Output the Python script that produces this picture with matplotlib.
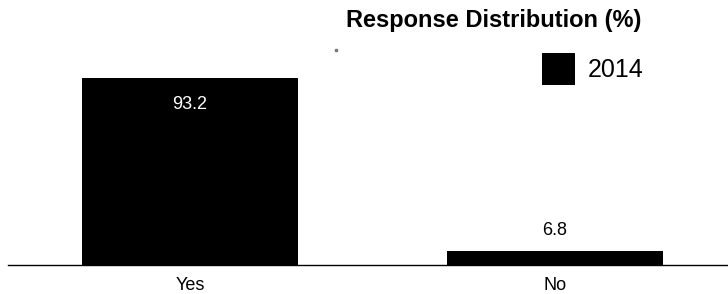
import matplotlib
matplotlib.use("Agg")

import matplotlib.pyplot as plt
from matplotlib.patches import Rectangle

categories = ["Yes", "No"]
values_2014 = [93.2, 6.8]
series_name = "2014"
title = "Response Distribution (%)"

plt.rcParams["font.family"] = ["Liberation Sans", "DejaVu Sans"]

W, H = 728, 294
fig = plt.figure(figsize=(W / 100, H / 100), dpi=100)

# axes: left at x=8px, bottom (baseline) at y=265px, top at y=0
ax = fig.add_axes([8 / W, (H - 265) / H, 1 - 8 / W, 265 / H])
x = list(range(len(categories)))
bars = ax.bar(x, values_2014, width=0.592, color="black", label=series_name)
ax.set_xlim(-0.4986, 1.474)
ax.set_ylim(0, 265 / 2.007)

for xi, v in zip(x, values_2014):
    if v > 50:
        ax.text(xi, v - 13.2, f"{v}", ha="center", va="center",
                color="white", fontsize=13)
    else:
        ax.text(xi, v + 10.6, f"{v}", ha="center", va="center",
                color="black", fontsize=13)

ax.set_xticks(x)
ax.set_xticklabels(categories, fontsize=13)
ax.tick_params(axis="x", length=0, pad=9)
ax.set_yticks([])
for s in ["top", "left", "right"]:
    ax.spines[s].set_visible(False)
ax.spines["bottom"].set_linewidth(1.0)

fig.text(494 / W, 1 - 20 / H, title, ha="center", va="center",
         fontsize=17, fontweight="bold")

fig.legend(handles=[bars], labels=[series_name], loc="upper left",
           bbox_to_anchor=(542 / W, 1 - 53 / H), frameon=False,
           fontsize=18, handlelength=1.32, handleheight=1.6,
           handletextpad=0.5, borderpad=0, borderaxespad=0)

# small grey dot artifact
fig.patches.append(Rectangle((335 / W, 1 - 51 / H), 2 / W, 2 / H,
                             transform=fig.transFigure, color="#777777"))

fig.savefig("out.png", dpi=100)
